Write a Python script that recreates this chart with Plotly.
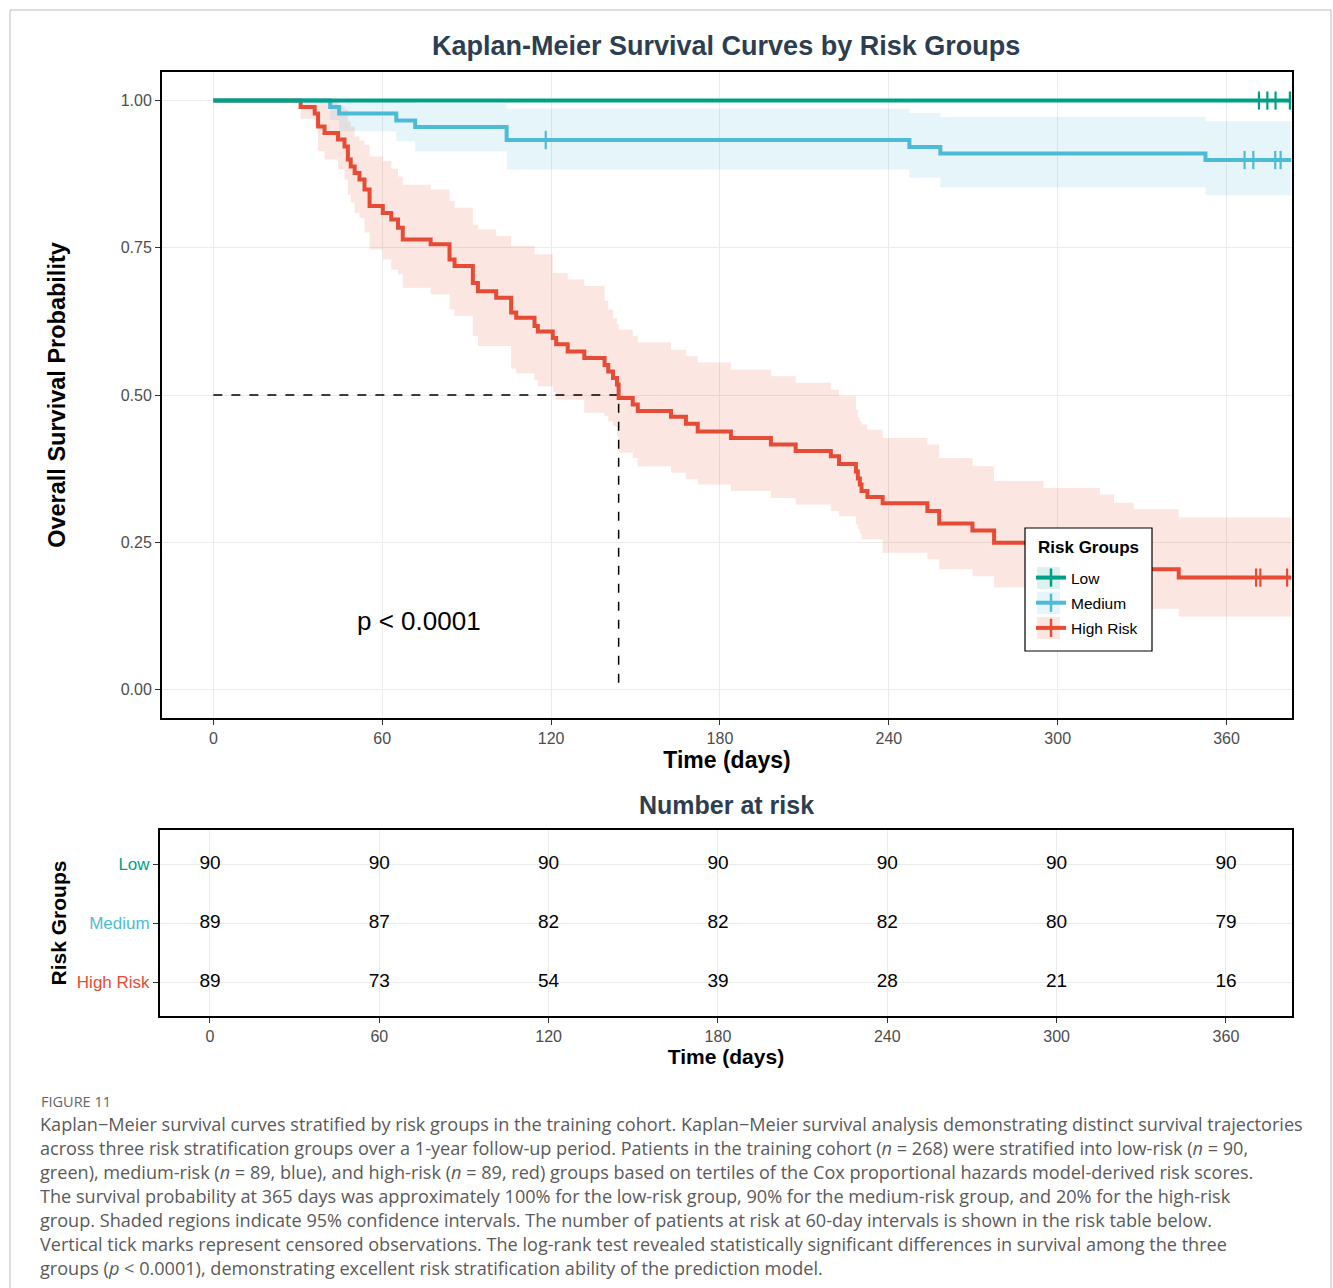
import plotly.graph_objects as go

# ---------------- DATA ----------------
# High risk group: step times (days), survival, 95% CI lower / upper
high_time = [0, 31, 36, 37.2, 39.5, 44.3, 46.6, 47.8, 48.8, 50.2, 51.9, 53.7, 55.5, 60.2, 63.2, 65.6, 67.3,
             77.2, 83.9, 85.7, 92.2, 94, 100.5, 105.8, 107.6, 114.1, 115.3, 120.6, 121.8, 125.9, 131.8,
             139, 140.3, 142, 143.4, 144, 149, 150.8, 162.6, 167.9, 172.1, 183.9, 198.1, 206.9, 219.4,
             222.3, 228.3, 229, 229.7, 230.3, 232.4, 237.8, 253.7, 257.9, 269.7, 277.4, 295, 315, 320,
             327, 343, 383]
high_surv = [1.0, 0.989, 0.978, 0.956, 0.945, 0.934, 0.922, 0.900, 0.888, 0.877, 0.866, 0.849, 0.821, 0.809,
             0.798, 0.784, 0.764, 0.756, 0.730, 0.719, 0.690, 0.676, 0.665, 0.640, 0.631, 0.617, 0.608,
             0.597, 0.586, 0.574, 0.563, 0.551, 0.540, 0.529, 0.518, 0.495, 0.484, 0.473, 0.463, 0.451,
             0.438, 0.427, 0.416, 0.405, 0.396, 0.383, 0.370, 0.358, 0.348, 0.337, 0.327, 0.316, 0.303,
             0.282, 0.270, 0.249, 0.237, 0.226, 0.215, 0.204, 0.190, 0.190]
high_lower = [1.0, 0.969, 0.955, 0.914, 0.900, 0.883, 0.866, 0.840, 0.827, 0.809, 0.800, 0.776, 0.747, 0.730,
              0.713, 0.705, 0.682, 0.671, 0.645, 0.634, 0.600, 0.583, 0.583, 0.545, 0.537, 0.525, 0.515,
              0.505, 0.492, 0.492, 0.470, 0.464, 0.455, 0.447, 0.430, 0.402, 0.393, 0.379, 0.368, 0.357,
              0.348, 0.337, 0.325, 0.314, 0.303, 0.294, 0.280, 0.272, 0.265, 0.255, 0.255, 0.232, 0.221,
              0.204, 0.192, 0.173, 0.163, 0.153, 0.145, 0.137, 0.124, 0.124]
high_upper = [1.0, 1.0, 1.0, 1.0, 1.0, 0.990, 0.985, 0.965, 0.956, 0.939, 0.932, 0.925, 0.905, 0.897,
              0.884, 0.871, 0.857, 0.849, 0.829, 0.818, 0.789, 0.781, 0.770, 0.753, 0.753, 0.739, 0.739,
              0.707, 0.707, 0.696, 0.685, 0.660, 0.645, 0.630, 0.620, 0.611, 0.600, 0.589, 0.577, 0.566,
              0.555, 0.543, 0.532, 0.521, 0.509, 0.498, 0.475, 0.462, 0.455, 0.450, 0.441, 0.427, 0.416,
              0.393, 0.379, 0.354, 0.342, 0.331, 0.317, 0.306, 0.292, 0.292]
high_censor_time = [370.5, 372, 381.5]
high_censor_surv = [0.190, 0.190, 0.190]

# Medium risk group
med_time = [0, 41.5, 44.7, 65, 71.7, 104.2, 247.3, 258.3, 352.5, 383]
med_surv = [1.0, 0.989, 0.978, 0.966, 0.955, 0.933, 0.921, 0.910, 0.899, 0.899]
med_lower = [1.0, 0.967, 0.948, 0.931, 0.914, 0.883, 0.869, 0.853, 0.839, 0.839]
med_upper = [1.0, 1.0, 1.0, 0.997, 0.995, 0.986, 0.979, 0.972, 0.965, 0.965]
med_censor_time = [118.1, 366.4, 369.5, 377.3, 379.2]
med_censor_surv = [0.933, 0.899, 0.899, 0.899, 0.899]

# Low risk group
low_time = [0, 383]
low_surv = [1.0, 1.0]
low_censor_time = [371.5, 374.5, 377.4, 382.5]
low_censor_surv = [1.0, 1.0, 1.0, 1.0]

median_high = 144
p_text = "p &lt; 0.0001"

# Number at risk table
risk_times = [0, 60, 120, 180, 240, 300, 360]
risk_groups = ["Low", "Medium", "High Risk"]
risk_low = [90, 90, 90, 90, 90, 90, 90]
risk_med = [89, 87, 82, 82, 82, 80, 79]
risk_high = [89, 73, 54, 39, 28, 21, 16]

x_ticks = [0, 60, 120, 180, 240, 300, 360]
y_ticks = [0.0, 0.25, 0.5, 0.75, 1.0]
y_ticklabels = ["0.00", "0.25", "0.50", "0.75", "1.00"]

caption_head = "FIGURE 11"
caption_lines = [
    "Kaplan\u2212Meier survival curves stratified by risk groups in the training cohort. Kaplan\u2212Meier survival analysis demonstrating distinct survival trajectories",
    "across three risk stratification groups over a 1-year follow-up period. Patients in the training cohort (<i>n</i> = 268) were stratified into low-risk (<i>n</i> = 90,",
    "green), medium-risk (<i>n</i> = 89, blue), and high-risk (<i>n</i> = 89, red) groups based on tertiles of the Cox proportional hazards model-derived risk scores.",
    "The survival probability at 365 days was approximately 100% for the low-risk group, 90% for the medium-risk group, and 20% for the high-risk",
    "group. Shaded regions indicate 95% confidence intervals. The number of patients at risk at 60-day intervals is shown in the risk table below.",
    "Vertical tick marks represent censored observations. The log-rank test revealed statistically significant differences in survival among the three",
    "groups (<i>p</i> &lt; 0.0001), demonstrating excellent risk stratification ability of the prediction model.",
]

# ---------------- STYLE ----------------
C_LOW = "#00A087"
C_MED = "#4DBBD5"
C_HIGH = "#E64B35"
F_LOW = "rgba(0,160,135,0.14)"
F_MED = "rgba(77,187,213,0.14)"
F_HIGH = "rgba(230,75,53,0.14)"
TITLE_C = "#2C3E50"
FONT = "Liberation Sans, Arial, sans-serif"
W, H = 1333, 1288

def px(x):
    return x / W

def py(y):
    return 1 - y / H

fig = go.Figure()

# Confidence bands
for t, lo, up, fc in [(high_time, high_lower, high_upper, F_HIGH),
                      (med_time, med_lower, med_upper, F_MED)]:
    fig.add_trace(go.Scatter(x=t, y=lo, mode="lines", line=dict(width=0, shape="hv"),
                             showlegend=False, hoverinfo="skip", xaxis="x", yaxis="y"))
    fig.add_trace(go.Scatter(x=t, y=up, mode="lines", line=dict(width=0, shape="hv"),
                             fill="tonexty", fillcolor=fc, showlegend=False, hoverinfo="skip",
                             xaxis="x", yaxis="y"))

# Median dashed lines
fig.add_trace(go.Scatter(x=[0, median_high, median_high], y=[0.5, 0.5, 0], mode="lines",
                         line=dict(color="black", width=1.5, dash="dash"), showlegend=False,
                         hoverinfo="skip", xaxis="x", yaxis="y"))

# Survival curves
for t, s, c in [(high_time, high_surv, C_HIGH), (med_time, med_surv, C_MED), (low_time, low_surv, C_LOW)]:
    fig.add_trace(go.Scatter(x=t, y=s, mode="lines", line=dict(color=c, width=4, shape="hv"),
                             showlegend=False, xaxis="x", yaxis="y"))

# Censor marks
for t, s, c in [(high_censor_time, high_censor_surv, C_HIGH), (med_censor_time, med_censor_surv, C_MED),
                (low_censor_time, low_censor_surv, C_LOW)]:
    fig.add_trace(go.Scatter(x=t, y=s, mode="markers",
                             marker=dict(symbol="line-ns", size=13, line=dict(color=c, width=2.2)),
                             showlegend=False, xaxis="x", yaxis="y"))

# Legend entries
for name, c in [("Low", C_LOW), ("Medium", C_MED), ("High Risk", C_HIGH)]:
    fig.add_trace(go.Scatter(x=[None], y=[None], mode="lines+markers", name=name, legendgroup=name,
                             line=dict(color=c, width=4),
                             marker=dict(symbol="line-ns", size=13, line=dict(color=c, width=2.5)),
                             xaxis="x", yaxis="y"))

# Risk table
for grp, vals in [("Low", risk_low), ("Medium", risk_med), ("High Risk", risk_high)]:
    fig.add_trace(go.Scatter(x=risk_times, y=[grp] * len(risk_times), mode="text",
                             text=[str(v) for v in vals], textfont=dict(size=19, color="black", family=FONT),
                             showlegend=False, xaxis="x2", yaxis="y2"))

grid_c = "#EBEBEB"
axis_common = dict(showgrid=True, gridcolor=grid_c, gridwidth=1, zeroline=False,
                   showline=True, linecolor="black", linewidth=2, mirror=True,
                   ticks="outside", ticklen=5, tickcolor="#333333", tickwidth=1.2)
fig.update_layout(
    width=W, height=H, margin=dict(l=0, r=0, t=0, b=0),
    paper_bgcolor="white", plot_bgcolor="white",
    font=dict(family=FONT, color="#333333"),
    xaxis=dict(domain=[px(162), px(1292)], range=[-18.25, 383.25], tickvals=x_ticks,
               tickfont=dict(size=16, color="#4D4D4D"),
               title=dict(text="<b>Time (days)</b>", font=dict(size=23, color="black"), standoff=6),
               anchor="y", **axis_common),
    yaxis=dict(domain=[py(718), py(72)], range=[-0.0485, 1.0485], tickvals=y_ticks,
               ticktext=y_ticklabels, tickfont=dict(size=16, color="#4D4D4D"),
               title=dict(text="<b>Overall Survival Probability</b>", font=dict(size=23.5, color="black"),
                          standoff=48),
               anchor="x", **axis_common),
    xaxis2=dict(domain=[px(160), px(1292)], range=[-17.7, 383.4], tickvals=x_ticks,
                tickfont=dict(size=16, color="#4D4D4D"),
                title=dict(text="<b>Time (days)</b>", font=dict(size=21, color="black"), standoff=4),
                anchor="y2", **axis_common),
    yaxis2=dict(domain=[py(1016), py(830)], type="category",
                categoryorder="array", categoryarray=list(reversed(risk_groups)),
                range=[-0.574, 2.576],
                tickfont=dict(size=17),
                tickvals=risk_groups,
                ticktext=[f"<span style='color:{C_LOW}'>Low</span>",
                          f"<span style='color:{C_MED}'>Medium</span>",
                          f"<span style='color:{C_HIGH}'>High Risk</span>"],
                title=dict(text="<b>Risk Groups</b>", font=dict(size=21, color="black"), standoff=4),
                anchor="x2", **axis_common),
    legend=dict(x=px(1025), y=py(561), xanchor="left", yanchor="top",
                bgcolor="rgba(0,0,0,0)", borderwidth=0,
                font=dict(size=15.5, color="black"), traceorder="grouped", tracegroupgap=2,
                itemwidth=30, indentation=6),
)

# Legend box drawn as a shape + title annotation
fig.add_shape(type="rect", xref="paper", yref="paper", x0=px(1025), x1=px(1152), y0=py(651), y1=py(528),
              line=dict(color="black", width=1.2), fillcolor="white", layer="above")
for i, fc in enumerate([F_LOW, F_MED, F_HIGH]):
    yc = 578 + 25 * i
    fig.add_shape(type="rect", xref="paper", yref="paper", x0=px(1037), x1=px(1060),
                  y0=py(yc + 11), y1=py(yc - 11), line=dict(width=0), fillcolor=fc, layer="above")

annotations = [
    dict(text="<b>Kaplan-Meier Survival Curves by Risk Groups</b>", x=px(726), y=py(46), xref="paper",
         yref="paper", showarrow=False, font=dict(size=27, color=TITLE_C), xanchor="center", yanchor="middle"),
    dict(text="<b>Number at risk</b>", x=px(726), y=py(805), xref="paper", yref="paper", showarrow=False,
         font=dict(size=25, color=TITLE_C), xanchor="center", yanchor="middle"),
    dict(text=p_text, x=73, y=0.117, xref="x", yref="y", showarrow=False,
         font=dict(size=26, color="black"), xanchor="center", yanchor="middle"),
    dict(text="<b>Risk Groups</b>", x=px(1036), y=py(547), xref="paper", yref="paper", showarrow=False,
         font=dict(size=17, color="black"), xanchor="left", yanchor="middle"),
    dict(text=caption_head, x=px(39), y=py(1101), xref="paper", yref="paper", showarrow=False,
         font=dict(size=14.5, color="#666666", family="Open Sans, sans-serif"), xanchor="left", yanchor="middle"),
]
for i, line in enumerate(caption_lines):
    annotations.append(dict(text=line, x=px(38), y=py(1124 + 24 * i), xref="paper", yref="paper",
                            showarrow=False, xanchor="left", yanchor="middle",
                            font=dict(size=18.1, color="#5A5A5A", family="Open Sans, sans-serif")))
fig.update_layout(annotations=annotations)

fig.add_shape(type="rect", xref="paper", yref="paper", x0=px(10), x1=px(1331), y0=-0.05, y1=py(10),
              line=dict(color="#BDBDBD", width=1), fillcolor="rgba(0,0,0,0)", layer="below")

fig.write_html("out.html", config={"displayModeBar": False},
               post_script="document.body.style.margin='0';document.body.style.overflow='hidden';")
